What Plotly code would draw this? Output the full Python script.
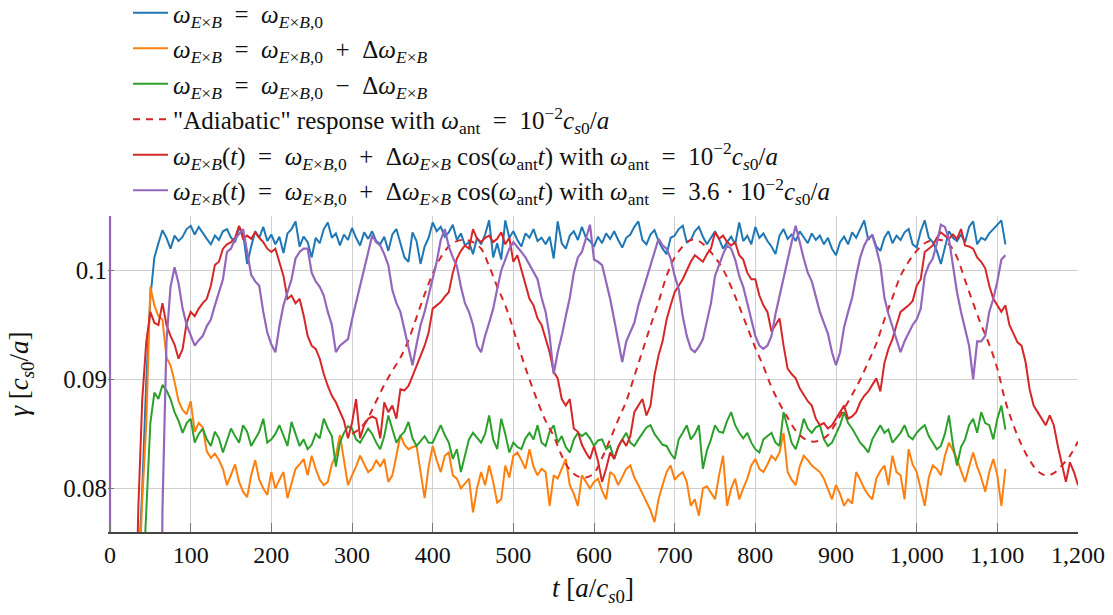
import numpy as np
import plotly.graph_objects as go

# Growth rate gamma in units of 1e-4 c_s0/a, sampled every 5 a/c_s0 from t = 0.
# Values below ~760 belong to the linear start-up phase (off scale).
STEP = 5.0

blue_1e4 = [
    300, 350, 400, 450, 520, 600, 680, 720, 800, 900, 975, 1012, 1025, 1037, 1030, 1020, 1032, 1027, 1031, 1038,
    1041, 1033, 1040, 1034, 1029, 1024, 1032, 1028, 1036, 1038, 1030, 1026, 1040, 1034, 1006, 1022, 1036, 1030, 1040, 1027,
    1033, 1024, 1031, 1016, 1034, 1038, 1045, 1022, 1031, 1026, 1012, 1030, 1025, 1038, 1044, 1030, 1034, 1023, 1033, 1028,
    1039, 1030, 1023, 1035, 1029, 1036, 1027, 1024, 1031, 1018, 1033, 1038, 1026, 1012, 1008, 1035, 1027, 1006, 1022, 1030,
    1044, 1036, 1040, 1031, 1035, 1042, 1028, 1034, 1023, 1026, 1015, 1030, 1024, 1033, 1046, 1012, 1025, 1010, 1046, 1030,
    1036, 1028, 1022, 1034, 1030, 1038, 1027, 1030, 1024, 1031, 1011, 1045, 1025, 1020, 1032, 1036, 1028, 1040, 1030, 1027,
    1022, 1031, 1025, 1034, 1029, 1036, 1028, 1021, 1030, 1033, 1040, 1045, 1028, 1024, 1033, 1037, 1027, 1020, 1015, 1030,
    1032, 1038, 1041, 1026, 1028, 1036, 1040, 1031, 1024, 1030, 1036, 1029, 1020, 1026, 1031, 1024, 1044, 1027, 1032, 1024,
    1040, 1030, 1034, 1027, 1022, 1015, 1032, 1038, 1029, 1033, 1027, 1036, 1030, 1025, 1034, 1028, 1032, 1024, 1030, 1020,
    1014, 1026, 1031, 1024, 1035, 1030, 1038, 1046, 1028, 1033, 1022, 1018, 1030, 1036, 1025, 1032, 1028, 1035, 1038, 1024,
    1021, 1036, 1046, 1030, 1026, 1018, 1006, 1020, 1036, 1030, 1027, 1033, 1026, 1040, 1045, 1024, 1030, 1028, 1034, 1038,
    1042, 1046, 1024,
]

orange_1e4 = [
    300, 350, 400, 450, 500, 560, 620, 700, 790, 860, 985, 968, 958, 955, 920, 913, 898, 880, 872, 868,
    880, 852, 860, 856, 834, 828, 832, 826, 818, 803, 812, 822, 806, 797, 792, 812, 826, 808, 800, 794,
    815, 800, 808, 815, 791, 804, 818, 822, 827, 812, 830, 818, 808, 803, 806, 822, 830, 849, 826, 803,
    812, 820, 830, 822, 815, 818, 826, 820, 827, 806, 812, 830, 849, 840, 836, 838, 839, 815, 791, 820,
    839, 826, 815, 830, 833, 812, 809, 800, 805, 809, 778, 800, 815, 803, 821, 806, 787, 790, 821, 810,
    830, 833, 826, 818, 836, 820, 812, 818, 815, 784, 812, 809, 818, 827, 803, 795, 784, 812, 806, 800,
    806, 809, 798, 790, 815, 812, 803, 810, 818, 821, 810, 803, 795, 787, 780, 769, 790, 803, 815, 821,
    808, 812, 815, 806, 784, 790, 775, 800, 802, 796, 790, 812, 830, 784, 800, 809, 790, 800, 809, 821,
    827, 818, 815, 822, 830, 826, 833, 851, 815, 808, 803, 820, 830, 826, 821, 818, 815, 809, 800, 790,
    803, 795, 784, 790, 786, 815, 808, 800, 794, 790, 809, 816, 821, 803, 830, 815, 812, 790, 836, 822,
    815, 800, 784, 810, 821, 818, 812, 830, 842, 835, 827, 816, 806, 820, 833, 820, 810, 797, 815, 827,
    812, 784, 818,
]

green_1e4 = [
    300, 350, 400, 450, 500, 550, 600, 650, 700, 780, 860, 888, 882, 895, 890, 882, 870, 862, 851, 860,
    864, 842, 850, 855, 845, 839, 852, 846, 833, 844, 855, 848, 842, 858, 852, 839, 846, 852, 864, 842,
    845, 850, 858, 848, 839, 861, 850, 839, 845, 836, 840, 850, 846, 864, 855, 848, 820, 842, 851, 857,
    855, 845, 842, 848, 855, 850, 842, 836, 848, 867, 855, 842, 848, 852, 861, 846, 839, 844, 848, 842,
    842, 850, 858, 849, 842, 827, 836, 815, 830, 845, 851, 846, 842, 850, 867, 845, 836, 864, 850, 833,
    842, 838, 836, 846, 851, 845, 858, 842, 839, 852, 858, 842, 848, 838, 833, 845, 851, 848, 851, 846,
    839, 844, 845, 836, 839, 827, 838, 845, 851, 842, 839, 845, 851, 856, 858, 850, 845, 840, 839, 832,
    827, 845, 851, 858, 845, 850, 858, 818, 835, 845, 858, 852, 851, 862, 870, 858, 851, 846, 851, 842,
    836, 833, 845, 848, 851, 842, 839, 870, 856, 842, 836, 848, 864, 855, 851, 856, 858, 845, 839, 842,
    850, 858, 870, 860, 855, 848, 842, 838, 833, 845, 851, 858, 851, 854, 842, 846, 851, 858, 848, 845,
    851, 855, 858, 848, 842, 836, 839, 850, 867, 840, 821, 838, 845, 858, 864, 851, 870, 860, 858, 845,
    864, 876, 854,
]

# omega_ant = 1e-2 c_s0/a, run continued up to t = 1200
red_1e4 = [
    300, 350, 400, 450, 500, 550, 600, 780, 882, 935, 962, 952, 950, 970, 950, 940, 932, 919, 928, 952,
    962, 958, 965, 970, 974, 986, 1005, 1008, 1020, 1024, 1026, 1030, 1041, 1029, 1032, 1029, 1035, 1030, 1026, 1020,
    1017, 1020, 1008, 995, 974, 977, 970, 974, 959, 940, 931, 928, 919, 905, 894, 885, 879, 870, 862, 846,
    860, 882, 846, 858, 864, 866, 864, 846, 879, 870, 876, 864, 891, 890, 894, 903, 912, 922, 931, 943,
    965, 968, 971, 976, 980, 998, 1011, 1018, 1023, 1020, 1038, 1029, 1026, 1030, 1032, 1026, 1029, 1035, 1024, 1030,
    1008, 1014, 1000, 986, 974, 968, 956, 950, 937, 925, 907, 901, 882, 876, 882, 855, 852, 840, 833, 827,
    839, 825, 806, 818, 833, 827, 838, 845, 839, 848, 870, 876, 882, 867, 876, 904, 922, 935, 955, 968,
    980, 986, 992, 1000, 1008, 1014, 1011, 1008, 1015, 1020, 1035, 1029, 1032, 1026, 1023, 1026, 1014, 1010, 998, 992,
    992, 977, 968, 962, 944, 950, 956, 931, 910, 905, 901, 892, 886, 880, 876, 864, 858, 860, 855, 858,
    864, 870, 876, 864, 866, 870, 879, 885, 889, 895, 901, 889, 915, 928, 937, 950, 962, 965, 968, 972,
    986, 992, 1017, 1020, 1023, 1030, 1035, 1032, 1029, 1033, 1029, 1038, 1023, 1022, 1020, 1012, 1008, 1002, 986, 974,
    968, 962, 968, 950, 942, 934, 931, 916, 891, 876, 870, 864, 858, 867, 858, 839, 821, 806, 824, 815,
    803,
]

# omega_ant = 3.6e-2 c_s0/a; the first output at t = 0 is off scale
purple_t0_1e4 = 2000
purple_1e4 = [
    300, 300, 300, 300, 300, 300, 300, 300, 300, 300, 300, 300, 300, 780, 935, 985, 1003, 988, 965, 950,
    940, 931, 936, 940, 949, 955, 968, 980, 992, 1017, 1020, 1029, 1033, 1038, 1017, 996, 990, 986, 962, 943,
    932, 925, 949, 968, 980, 992, 1011, 1017, 1020, 1020, 998, 990, 985, 977, 962, 950, 925, 931, 934, 937,
    955, 970, 986, 1000, 1015, 1032, 1026, 1023, 1015, 1005, 982, 970, 962, 945, 930, 913, 932, 950, 962, 978,
    992, 1008, 1028, 1038, 1022, 1012, 1004, 985, 970, 962, 950, 931, 925, 940, 952, 965, 983, 1000, 1010, 1020,
    1026, 1022, 1017, 1012, 1005, 998, 992, 975, 962, 940, 905, 925, 940, 958, 975, 998, 1012, 1017, 1030, 1042,
    1010, 1008, 1005, 990, 974, 955, 937, 916, 935, 943, 952, 968, 980, 992, 1005, 1017, 1029, 1023, 1020, 1011,
    995, 983, 958, 940, 928, 925, 930, 937, 955, 970, 995, 1005, 1015, 1023, 1020, 1010, 995, 985, 970, 955,
    940, 931, 928, 931, 940, 960, 977, 995, 1012, 1026, 1041, 1025, 1011, 998, 990, 976, 962, 952, 942, 925,
    913, 925, 948, 962, 975, 995, 1012, 1023, 1030, 1032, 1020, 1005, 975, 960, 948, 935, 925, 935, 943, 950,
    955, 965, 995, 1005, 1011, 1025, 1042, 1040, 1029, 1005, 980, 962, 945, 931, 900, 935, 935, 940, 962, 974,
    990, 1010, 1014,
]

# "Adiabatic" response, every 10 a/c_s0 from t = 300 to 1200
adiabatic_t_start = 300.0
adiabatic_step = 10.0
adiabatic_1e4 = [
    850, 855, 865, 880, 895, 908, 920, 936, 957, 978,
    997, 1012, 1022, 1027, 1028, 1026, 1020, 1004, 985, 968,
    946, 922, 900, 880, 862, 848, 830, 817, 811, 810,
    814, 828, 845, 863, 880, 903, 926, 949, 971, 995,
    1012, 1022, 1028, 1027, 1021, 1012, 1001, 985, 967, 948,
    929, 912, 893, 878, 865, 853, 846, 843, 844, 849,
    860, 873, 886, 900, 916, 933, 955, 975, 995, 1008,
    1018, 1025, 1028, 1028, 1024, 1012, 991, 970, 950, 932,
    910, 880, 858, 840, 826, 816, 812, 814, 821, 830,
    843,
]

x_tick_vals = list(range(0, 1201, 100))
y_tick_vals = [0.08, 0.09, 0.1]
y_tick_text = ["0.08", "0.09", "0.1"]

SCALE = 1e-4


def series(vals, t0=0.0, dt=STEP):
    v = np.asarray(vals, dtype=float) * SCALE
    return t0 + dt * np.arange(len(v)), v


SP = "\u2002"  # wider spacing around relations, as in typeset math
EXB = "<i>E</i>×<i>B</i>"
W = "<i>ω</i>"
W_EXB = f"{W}<sub>{EXB}</sub>"
W_EXB0 = f"{W}<sub>{EXB},0</sub>"
DW = f"Δ{W}<sub>{EXB}</sub>"
W_ANT = f"{W}<sub>ant</sub>"
CS0A = "<i>c</i><sub><i>s</i>0</sub>/<i>a</i>"
EQ = f"{SP}={SP}"
PLUS = f"{SP}+{SP}"
MINUS = f"{SP}−{SP}"

names = [
    f"{W_EXB}{EQ}{W_EXB0}",
    f"{W_EXB}{EQ}{W_EXB0}{PLUS}{DW}",
    f"{W_EXB}{EQ}{W_EXB0}{MINUS}{DW}",
    f"\"Adiabatic\" response with {W_ANT}{EQ}10<sup>−2</sup>{CS0A}",
    f"{W_EXB}(<i>t</i>){EQ}{W_EXB0}{PLUS}{DW} cos({W_ANT}<i>t</i>) with {W_ANT}{EQ}10<sup>−2</sup>{CS0A}",
    f"{W_EXB}(<i>t</i>){EQ}{W_EXB0}{PLUS}{DW} cos({W_ANT}<i>t</i>) with {W_ANT}{EQ}3.6 · 10<sup>−2</sup>{CS0A}",
]

colors = ["#1f77b4", "#ff7f0e", "#2ca02c", "#d62728", "#d62728", "#9467bd"]
LW = 2.0

fig = go.Figure()

for vals, name, col in [(blue_1e4, names[0], colors[0]),
                        (orange_1e4, names[1], colors[1]),
                        (green_1e4, names[2], colors[2])]:
    t, g = series(vals)
    fig.add_trace(go.Scatter(x=t, y=g, mode="lines", name=name,
                             line=dict(color=col, width=LW)))

ta, ga = series(adiabatic_1e4, adiabatic_t_start, adiabatic_step)
fig.add_trace(go.Scatter(x=ta, y=ga, mode="lines", name=names[3],
                         line=dict(color=colors[3], width=LW, dash="7px,6px", shape="spline")))

tr, gr = series(red_1e4)
fig.add_trace(go.Scatter(x=tr, y=gr, mode="lines", name=names[4],
                         line=dict(color=colors[4], width=LW)))

tp, gp = series(purple_1e4)
tp = np.concatenate([[0.0], tp])
gp = np.concatenate([[purple_t0_1e4 * SCALE], gp])
fig.add_trace(go.Scatter(x=tp, y=gp, mode="lines", name=names[5],
                         line=dict(color=colors[5], width=2.2)))

FONT = "Liberation Serif"
MARGIN_T, MARGIN_B, MARGIN_L, MARGIN_R = 216, 83, 108, 35
PLOT_H = 615 - MARGIN_T - MARGIN_B
PLOT_W = 1113 - MARGIN_L - MARGIN_R

fig.update_layout(
    width=1113, height=615,
    margin=dict(l=MARGIN_L, r=MARGIN_R, t=MARGIN_T, b=MARGIN_B, autoexpand=False),
    paper_bgcolor="white", plot_bgcolor="white",
    font=dict(family=FONT, size=24, color="#111"),
    showlegend=True,
    legend=dict(
        x=20 / PLOT_W, xanchor="left",
        y=1 + (MARGIN_T + 10) / PLOT_H, yanchor="top",
        bgcolor="rgba(255,255,255,0)",
        font=dict(family=FONT, size=25, color="#111"),
        tracegroupgap=0, itemwidth=35,
    ),
    xaxis=dict(
        range=[-2.5, 1200], tickvals=x_tick_vals, tickformat=",d",
        showgrid=True, gridcolor="#cfcfcf", gridwidth=1,
        zeroline=False, showline=True, linecolor="#444", linewidth=1.5,
        ticks="inside", ticklen=9, tickcolor="#777", tickwidth=1.2,
        tickfont=dict(family=FONT, size=24),
        title=dict(text="<i>t</i> [<i>a</i>/<i>c</i><sub><i>s</i>0</sub>]",
                   font=dict(family=FONT, size=27), standoff=12),
    ),
    yaxis=dict(
        range=[0.076, 0.105], tickvals=y_tick_vals, ticktext=y_tick_text,
        showgrid=True, gridcolor="#cfcfcf", gridwidth=1,
        zeroline=False, showline=False,
        ticks="inside", ticklen=6, tickcolor="#777", tickwidth=1.2,
        tickfont=dict(family=FONT, size=25),
        title=dict(text="<i>γ</i> [<i>c</i><sub><i>s</i>0</sub>/<i>a</i>]",
                   font=dict(family=FONT, size=27), standoff=26),
    ),
)

fig.write_html("out.html")
